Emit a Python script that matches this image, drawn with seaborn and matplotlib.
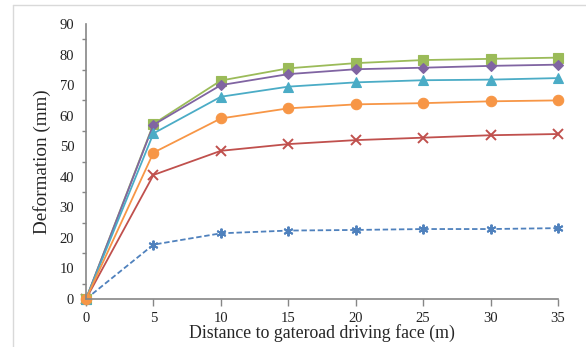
import matplotlib
matplotlib.use("Agg")
import matplotlib.pyplot as plt
import matplotlib.lines as mlines
import pandas as pd
import seaborn as sns
from matplotlib.ticker import MultipleLocator

# Distance to gateroad driving face (m)
distance = [0, 5, 10, 15, 20, 25, 30, 35]

# Deformation (mm) for each curve
green_sq = [0, 57.3, 71.5, 75.5, 77.2, 78.2, 78.6, 79.0]
purple_dm = [0, 57.0, 70.0, 73.6, 75.2, 75.7, 76.3, 76.7]
cyan_tri = [0, 54.2, 66.2, 69.5, 70.9, 71.6, 71.8, 72.3]
orange_ci = [0, 47.9, 59.1, 62.4, 63.7, 64.1, 64.7, 65.0]
red_x = [0, 40.6, 48.5, 50.7, 52.0, 52.8, 53.6, 54.0]
blue_star = [0, 17.8, 21.5, 22.4, 22.6, 22.9, 22.9, 23.2]

# drawing order: the orange curve ends up on top at the origin
series = {
    "blue": blue_star,
    "red": red_x,
    "green": green_sq,
    "purple": purple_dm,
    "cyan": cyan_tri,
    "orange": orange_ci,
}
colors = {
    "green": "#9BBB59",
    "purple": "#8064A2",
    "cyan": "#4BACC6",
    "orange": "#F79646",
    "red": "#C0504D",
    "blue": "#4F81BD",
}
markers = {
    "green": "s",
    "purple": "D",
    "cyan": "^",
    "orange": "o",
    "red": "x",
    "blue": (6, 2, 0),
}
msizes = {"green": 7, "purple": 5.5, "cyan": 7.5, "orange": 7.5, "red": 7, "blue": 7}

df = pd.DataFrame(
    [(d, name, v) for name, vals in series.items() for d, v in zip(distance, vals)],
    columns=["distance", "curve", "deformation"],
)

sns.set_theme(style="white")
plt.rcParams["font.family"] = ["Liberation Serif", "DejaVu Serif"]

fig = plt.figure(figsize=(5.86, 3.47), dpi=100)
ax = fig.add_axes([0.1468, 0.1383, 0.8054, 0.7925])

for name in series:
    sub = df[df["curve"] == name]
    sns.lineplot(
        data=sub, x="distance", y="deformation", ax=ax,
        color=colors[name], marker=markers[name], markersize=msizes[name],
        markeredgecolor=colors[name], markeredgewidth=1.4 if name in ("red", "blue") else 0.8,
        linewidth=1.3, linestyle=(0, (3, 1.5)) if name == "blue" else "-",
        legend=False,
    )

ax.set_xlim(0, 35)
ax.set_ylim(0, 90)
ax.xaxis.set_major_locator(MultipleLocator(5))
ax.yaxis.set_major_locator(MultipleLocator(10))
ax.yaxis.set_minor_locator(MultipleLocator(5))
for side in ("top", "right"):
    ax.spines[side].set_visible(False)
for side in ("left", "bottom"):
    ax.spines[side].set_color("#868686")
    ax.spines[side].set_linewidth(1.2)
ax.tick_params(axis="both", which="both", direction="out", color="#868686",
               labelsize=10.5, labelcolor="#222222")
ax.tick_params(axis="y", which="major", length=5, width=1)
ax.tick_params(axis="y", which="minor", length=3, width=1, left=True)
ax.tick_params(axis="x", which="major", length=5, width=1, bottom=True, pad=4)
ax.set_xlabel("Distance to gateroad driving face (m)", fontsize=12.8, labelpad=0)
ax.set_ylabel("Deformation (mm)", fontsize=13.8, labelpad=6)
for c in ax.get_lines():
    c.set_clip_on(False)

# light frame around the chart area
fig.add_artist(mlines.Line2D([13 / 586, 13 / 586], [0, 1 - 5 / 347], color="#D9D9D9", lw=1))
fig.add_artist(mlines.Line2D([13 / 586, 1], [1 - 5 / 347, 1 - 5 / 347], color="#D9D9D9", lw=1))

fig.savefig("out.png", dpi=100)
